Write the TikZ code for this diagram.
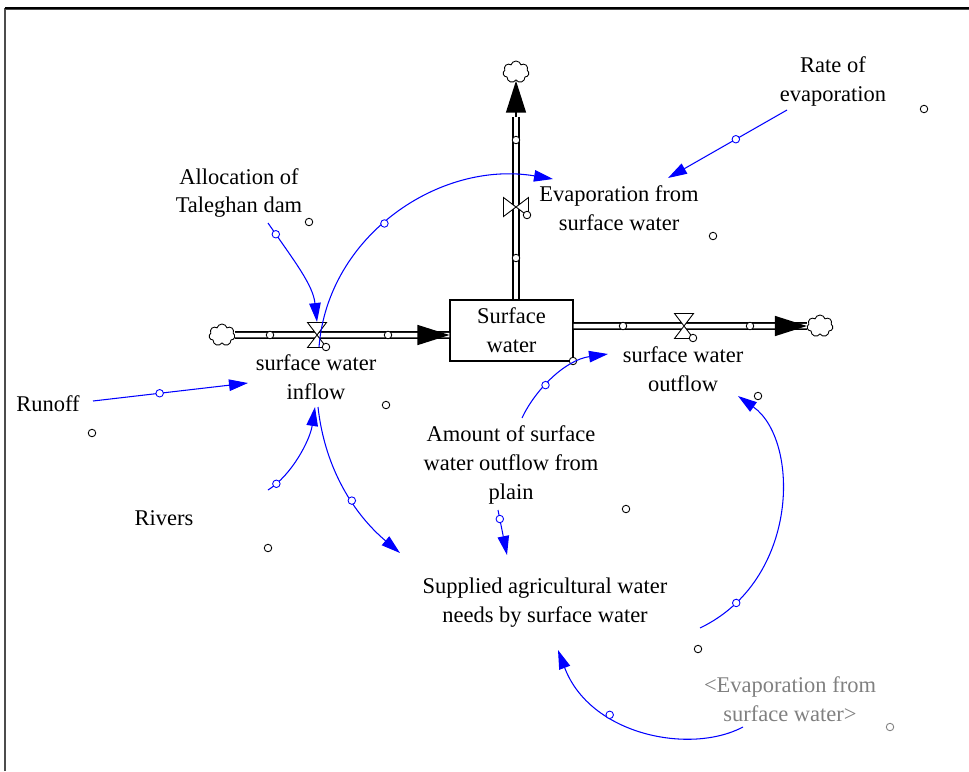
\documentclass[tikz,border=0pt]{standalone}
\usepackage{fontspec}
\setmainfont{Liberation Serif}
\usetikzlibrary{arrows.meta,shapes.symbols,positioning}

\begin{document}
\begin{tikzpicture}[x=0.02cm, y=-0.02cm,
    every node/.style={font=\fontsize{12.8}{16.5}\selectfont, align=center, inner sep=0pt},
    stock/.style={draw, line width=0.6pt, minimum width=2.46cm, minimum height=1.22cm},
    pipe/.style={line width=0.9pt, double distance=0.09cm},
    flowtip/.style={line width=0.8pt, -{Triangle[length=0.64cm,width=0.4cm]}},
    sink/.style={cloud, cloud puffs=7, cloud ignores aspect, draw, line width=0.5pt,
      minimum width=0.52cm, minimum height=0.44cm},
    link/.style={blue, line width=0.6pt, -{Triangle[length=0.38cm,width=0.23cm]}},
    dot/.style={circle, draw, fill=white, inner sep=0pt, minimum size=0.15cm, line width=0.5pt},
    bdot/.style={dot, draw=blue},
    ghost/.style={text=black!50},
    valve/.pic={\draw[fill=white, line width=0.5pt] (-9.5,-12.5) -- (9.5,-12.5) -- (0,0) -- cycle
      (-9.5,12.5) -- (9.5,12.5) -- (0,0) -- cycle;}]
  \useasboundingbox (0,0) rectangle (969,771);
  \draw[line width=0.6pt, black!70] (5,771) -- (5,9) -- (969,9);
  \draw[line width=1.1pt] (5,8) -- (969,8);

  % stock, sources and sinks
  \node[stock] (sw) at (511.5,330.5) {Surface\\water};
  \node[sink] (cin) at (222,335) {};
  \node[sink] (cout) at (820,326) {};
  \node[sink] (cev) at (516,72) {};

  \coordinate (inE) at (sw.west |- cin);
  \coordinate (inB) at (418,335);
  \coordinate (outW) at (sw.east |- cout);
  \coordinate (outB) at (775,326);
  \coordinate (evS) at (sw.north -| cev);
  \coordinate (evB) at (516,117);

  % flows
  \draw[pipe] (cin.east) -- (inE);
  \draw[flowtip] (inB) -- (inE);
  \draw[pipe] (outW) -- (cout.west);
  \draw[flowtip] (outB) -- (cout.west);
  \draw[pipe] (evS) -- (evB);
  \draw[flowtip] (evB) -- (cev.south);

  \foreach \x/\y [count=\i] in {270/335, 388/335, 623/326, 750/326, 516/140, 516/258}
    \node[dot] (p\i) at (\x,\y) {};

  \pic at (317,335) {valve};
  \pic at (684,326) {valve};
  \pic[rotate=90] at (516,207) {valve};

  % variables
  \node (inf) at (316,377) {surface water\\inflow};
  \node (outf) at (683,369) {surface water\\outflow};
  \node (evap) at (619,208) {Evaporation from\\surface water};
  \node (rate) at (833,81) {Rate of\\evaporation};
  \node (alloc) at (239,193) {Allocation of\\Taleghan dam};
  \node (runoff) at (48,404) {Runoff};
  \node (rivers) at (164,518) {Rivers};
  \node (amount) at (511,465) {Amount of surface\\water outflow from\\plain};
  \node (supp) at (545,603) {Supplied agricultural water\\needs by surface water};
  \node[ghost] (gevap) at (790,699) {<Evaporation from\\surface water>};

  \foreach \x/\y [count=\i] in {309/222, 386/405, 713/236, 924/109, 92/433, 268/548,
      626/509, 698/649, 758/396, 573/361, 326/347, 693/338, 527/215}
    \node[dot] (m\i) at (\x,\y) {};
  \node[dot, draw=black!50] (m14) at (890,727) {};

  % link ends
  \coordinate (alS) at (268,223);   \coordinate (vinT) at (317,322);
  \coordinate (vinB) at (319,347);  \coordinate (evW) at (553,179);
  \coordinate (rtS) at (787,110);   \coordinate (evE) at (668,178);
  \coordinate (roE) at (93,401);    \coordinate (infW) at (248,383);
  \coordinate (rvE) at (268,490);   \coordinate (infS) at (315,407);
  \coordinate (infD) at (318,407);  \coordinate (spW) at (400,553);
  \coordinate (amN) at (522,418);   \coordinate (ofW) at (608,354);
  \coordinate (amS) at (498,510);   \coordinate (spN) at (507,555);
  \coordinate (spE) at (700,628);   \coordinate (ofS) at (738,396);
  \coordinate (geW) at (743,727);   \coordinate (spB) at (558,650);

  % links
  \draw[link] (alS) .. controls (295,262) and (313,285) .. node[bdot, pos=0.1] (k1) {} (vinT);
  \draw[link] (vinB) .. controls (328,235) and (440,160) .. node[bdot, pos=0.45] (k2) {} (evW);
  \draw[link] (rtS) -- node[bdot, pos=0.43] (k3) {} (evE);
  \draw[link] (roE) -- node[bdot, pos=0.43] (k4) {} (infW);
  \draw[link] (rvE) .. controls (292,475) and (310,440) .. node[bdot, pos=0.12] (k5) {} (infS);
  \draw[link] (infD) .. controls (325,470) and (355,515) .. node[bdot, pos=0.58] (k6) {} (spW);
  \draw[link] (amN) .. controls (535,390) and (565,360) .. node[bdot, pos=0.4] (k7) {} (ofW);
  \draw[link] (amS) -- node[bdot, pos=0.2] (k8) {} (spN);
  \draw[link] (spE) .. controls (800,580) and (800,440) .. node[bdot, pos=0.14] (k9) {} (ofS);
  \draw[link] (geW) .. controls (690,755) and (590,735) .. node[bdot, pos=0.66] (k10) {} (spB);
\end{tikzpicture}
\end{document}
